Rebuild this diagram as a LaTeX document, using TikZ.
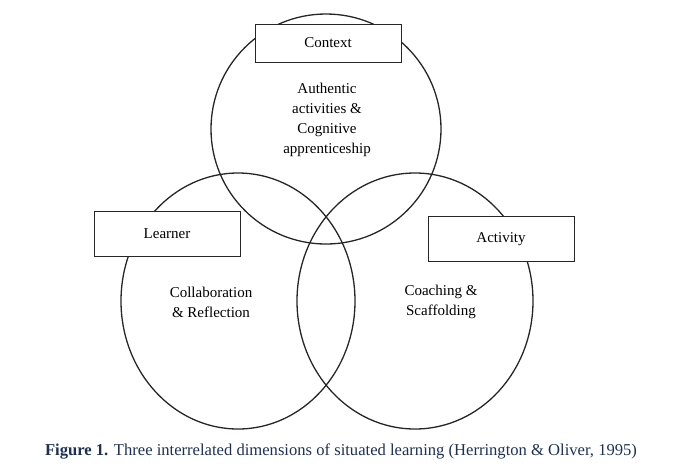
\documentclass[tikz,border=0pt]{standalone}
\usepackage{fontspec}
\setmainfont{Liberation Serif}
\definecolor{cap}{HTML}{1F3050}
\usetikzlibrary{shapes.geometric}
\begin{document}
\begin{tikzpicture}[x=1pt,y=-1pt,
  circ/.style={draw=black!85,line width=1.3pt,fill=none,inner sep=0pt},
  lbl/.style={draw=black!85,line width=0.8pt,fill=white,minimum width=146pt,minimum height=38pt,font=\fontsize{15}{17}\selectfont},
  txt/.style={align=center,font=\fontsize{15}{20}\selectfont}]
\useasboundingbox (0,0) rectangle (688,475);
\node[circ,circle,minimum size=230pt] (top) at (326,129) {};
\node[circ,ellipse,minimum width=234pt,minimum height=256pt] (left) at (238,301) {};
\node[circ,ellipse,minimum width=236pt,minimum height=256pt] (right) at (415,301) {};
\node[lbl] (context) at (328,43) {Context};
\node[lbl,minimum height=45pt] (learner) at (167,234) {Learner};
\node[lbl,minimum height=45pt] (activity) at (501,239) {Activity};
\node[txt] (t1) at (327,120) {Authentic\\activities \&\\Cognitive\\apprenticeship};
\node[txt] (t2) at (211,302) {Collaboration\\\& Reflection};
\node[txt] (t3) at (441,302) {Coaching \&\\Scaffolding};
\node[font=\fontsize{16.6}{18}\selectfont,text=cap] (caption) at (341,451) {\textbf{Figure 1.} Three interrelated dimensions of situated learning (Herrington \& Oliver, 1995)};
\end{tikzpicture}
\end{document}
